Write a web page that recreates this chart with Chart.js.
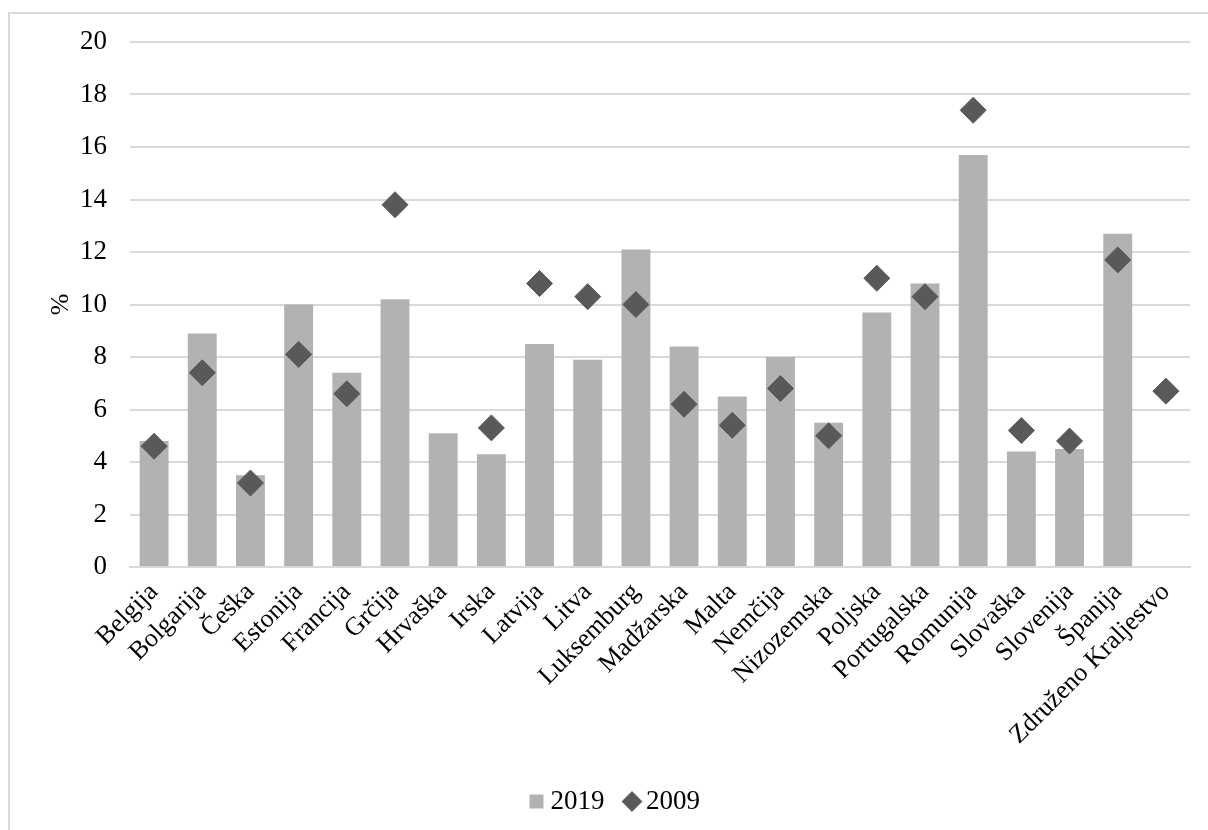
<!DOCTYPE html>
<html>
<head>
<meta charset="utf-8">
<script src="https://cdn.jsdelivr.net/npm/chart.js@4/dist/chart.umd.min.js"></script>
<style>
    html, body { margin: 0; padding: 0; background: #fff; }
    #frame {
        position: absolute; left: 8px; top: 12px; width: 1230px; height: 850px;
        border-left: 2px solid #d9d9d9; border-top: 2px solid #d9d9d9;
    }
    #wrap { position: absolute; left: 0; top: 0; width: 1208px; height: 830px; }
</style>
</head>
<body>
<div id="frame"></div>
<div id="wrap"><canvas id="chart"></canvas></div>
<script>
// Countries and values (%)
const countries = ['Belgija', 'Bolgarija', 'Češka', 'Estonija', 'Francija', 'Grčija', 'Hrvaška', 'Irska',
    'Latvija', 'Litva', 'Luksemburg', 'Madžarska', 'Malta', 'Nemčija', 'Nizozemska', 'Poljska',
    'Portugalska', 'Romunija', 'Slovaška', 'Slovenija', 'Španija', 'Združeno Kraljestvo'];
const values2019 = [4.8, 8.9, 3.5, 10.0, 7.4, 10.2, 5.1, 4.3, 8.5, 7.9, 12.1, 8.4, 6.5, 8.0, 5.5, 9.7,
    10.8, 15.7, 4.4, 4.5, 12.7, null];
const values2009 = [4.6, 7.4, 3.2, 8.1, 6.6, 13.8, null, 5.3, 10.8, 10.3, 10.0, 6.2, 5.4, 6.8, 5.0, 11.0,
    10.3, 17.4, 5.2, 4.8, 11.7, 6.7];
const yTicks = [0, 2, 4, 6, 8, 10, 12, 14, 16, 18, 20];

const serif = '"Liberation Serif", "Times New Roman", serif';

const ctx = document.getElementById('chart').getContext('2d');
new Chart(ctx, {
    type: 'bar',
    data: {
        labels: countries,
        datasets: [{
            label: '2019',
            data: values2019,
            backgroundColor: '#b2b2b2',
            categoryPercentage: 1,
            barPercentage: 0.6,
            pointStyle: 'rect',
            order: 1
        }, {
            type: 'line',
            label: '2009',
            data: values2009,
            showLine: false,
            pointStyle: 'rectRot',
            pointRadius: 13,
            pointBackgroundColor: '#595959',
            pointBorderColor: '#595959',
            backgroundColor: '#595959',
            borderColor: '#595959',
            order: 0
        }]
    },
    options: {
        responsive: true,
        maintainAspectRatio: false,
        animation: false,
        layout: { padding: { left: 46, right: 18, top: 42, bottom: 5 } },
        plugins: {
            tooltip: { enabled: false },
            legend: {
                position: 'bottom',
                labels: {
                    usePointStyle: true,
                    boxWidth: 1,
                    boxHeight: 14,
                    padding: 27,
                    color: '#000',
                    font: { family: serif, size: 27 },
                    sort: (a, b) => a.datasetIndex - b.datasetIndex
                }
            }
        },
        scales: {
            x: {
                grid: { display: false },
                border: { display: true, color: '#d9d9d9', width: 2 },
                afterFit: axis => { axis.height = 194; },
                ticks: {
                    color: '#000',
                    font: { family: serif, size: 26 },
                    minRotation: 45,
                    maxRotation: 45,
                    autoSkip: false,
                    padding: 2
                }
            },
            y: {
                min: 0,
                max: 20,
                afterBuildTicks: axis => { axis.ticks = yTicks.map(v => ({ value: v })); },
                afterFit: axis => { axis.width = 84; },
                grid: { color: '#d9d9d9', lineWidth: 2, drawTicks: false },
                border: { display: false },
                title: {
                    display: true,
                    text: '%',
                    color: '#000',
                    font: { family: serif, size: 26 },
                    padding: { top: 0, bottom: 0 }
                },
                ticks: {
                    color: '#000',
                    font: { family: serif, size: 27 },
                    padding: 23
                }
            }
        }
    }
});
</script>
</body>
</html>
